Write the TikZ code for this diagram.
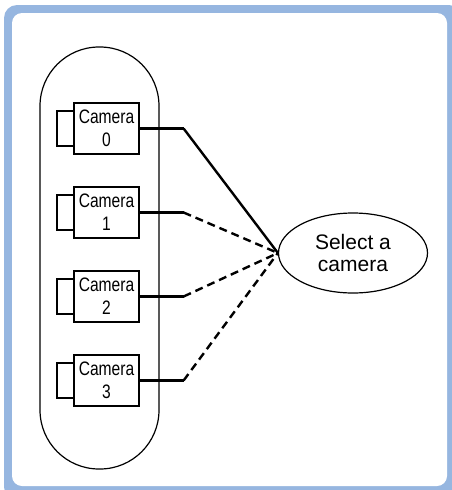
\documentclass[tikz,border=0pt]{standalone}
\usepackage{fontspec}
\setmainfont{Liberation Sans}
\newfontfamily\camfont[FakeStretch=0.8]{Liberation Sans}
\usepackage{tikz}
\usetikzlibrary{shapes.geometric}
\definecolor{frameblue}{RGB}{150,182,224}

\begin{document}
\begin{tikzpicture}[x=1pt, y=-1pt,
  cam/.style={draw, line width=1.2pt, minimum width=65pt, minimum height=51pt, inner sep=0pt, align=center, font=\camfont\fontsize{19.5}{23}\selectfont},
  camside/.style={draw, line width=1.2pt, minimum width=17pt, minimum height=35pt, inner sep=0pt},
  link/.style={line width=2.4pt},
  linkdash/.style={line width=2.4pt, dash pattern=on 8pt off 5pt}]
  \useasboundingbox (0,0) rectangle (452,490);
  \fill[frameblue, rounded corners=13pt] (4,5) rectangle (462,500);
  \fill[white, rounded corners=10pt] (12,13) rectangle (447,486);
  \draw[line width=1.2pt, rounded corners=59pt] (40,47) rectangle (159,469);
  \node[camside] (side0) at (65.5,128.5) {};
  \node[cam, fill=white] (cam0) at (106.5,128.5) {Camera\\0};
  \node[camside] (side1) at (65.5,212.5) {};
  \node[cam, fill=white] (cam1) at (106.5,212.5) {Camera\\1};
  \node[camside] (side2) at (65.5,296.5) {};
  \node[cam, fill=white] (cam2) at (106.5,296.5) {Camera\\2};
  \node[camside] (side3) at (65.5,380.5) {};
  \node[cam, fill=white] (cam3) at (106.5,380.5) {Camera\\3};
  \node[ellipse, draw, line width=1.2pt, minimum width=149pt, minimum height=80pt, inner sep=0pt, align=center, font=\fontsize{21}{22.7}\selectfont] (sel) at (353,253) {Select a\\camera};
  \draw[link] (cam0.east) -- ++(44,0) coordinate (k0);
  \draw[link] (cam1.east) -- ++(44,0) coordinate (k1);
  \draw[link] (cam2.east) -- ++(44,0) coordinate (k2);
  \draw[link] (cam3.east) -- ++(44,0) coordinate (k3);
  \draw[link] (k0) -- (sel.west);
  \draw[linkdash] (k1) -- (sel.west);
  \draw[linkdash] (k2) -- (sel.west);
  \draw[linkdash] (k3) -- (sel.west);
\end{tikzpicture}
\end{document}
